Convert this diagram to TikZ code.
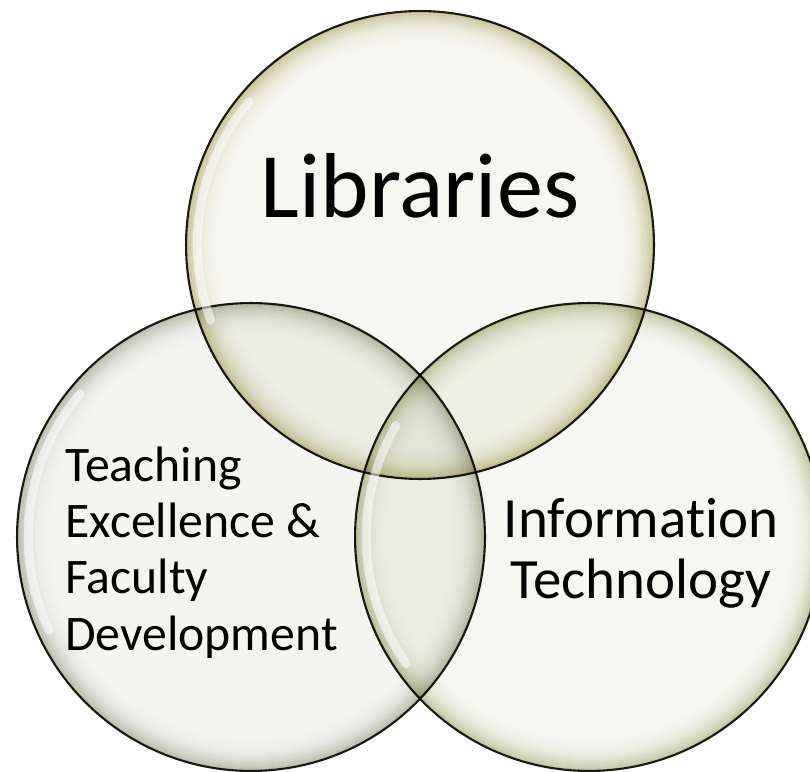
\documentclass[tikz,border=0pt]{standalone}
\usepackage{fontspec}
\setmainfont{Carlito}[Ligatures=NoCommon]
\usepackage{tikz}
\definecolor{rimline}{HTML}{1E1E16}
\definecolor{libin}{HTML}{F7F7F1}
\definecolor{librim}{HTML}{D2CDA4}
\definecolor{tedin}{HTML}{F4F5F1}
\definecolor{tedrim}{HTML}{C3C8B9}
\definecolor{itin}{HTML}{F6F7F1}
\definecolor{itrim}{HTML}{CBCFAE}
\usetikzlibrary{positioning}

% soft coloured band inside the rim of a bubble
\newcommand{\bubblerim}[2]{%
  \foreach \k [evaluate=\k as \p using {int(100*(1-\k/20)^3)}] in {0,...,19}
    \draw[line width=0.04cm, draw=#2!\p!white] (#1) circle[radius=233-2*\k];
}

\begin{document}
\begin{tikzpicture}[x=0.02cm, y=0.02cm]

  \tikzstyle{bubble} = [%
  circle,
  draw=rimline,
  inner sep=0pt,
  line width=1.2pt,
  minimum size=9.36cm,
  ];
  \tikzstyle{shine} = [%
  draw=white,
  line cap=round,
  line width=5pt,
  opacity=0.55,
  ];
  \tikzstyle{label} = [%
  inner sep=0pt,
  text=black,
  ];

  \useasboundingbox (0,0) rectangle (810,771);

  \begin{scope}[blend mode=multiply]
    \node[bubble, fill=libin] (lib) at (420,526) {};
    \node[bubble, fill=tedin] (ted) at (251,234) {};
    \node[bubble, fill=itin]  (it)  at (589,234) {};
    \bubblerim{lib}{librim}
    \bubblerim{ted}{tedrim}
    \bubblerim{it}{itrim}
  \end{scope}

  % highlights on the left rims
  \draw[shine] (lib.140) ++(-40:12) arc[start angle=140, end angle=200, radius=222];
  \draw[shine] (ted.140) ++(-40:12) arc[start angle=140, end angle=205, radius=222];
  \draw[shine] (it.150)  ++(-30:12) arc[start angle=150, end angle=215, radius=222];

  \node[label, anchor=base, font=\fontsize{52.5}{63}\selectfont]
    (libname) at (420,553) {Libraries};
  \node[label, anchor=base west, align=left, font=\fontsize{28.3}{31.9}\selectfont]
    (tedname) at (65,121) {Teaching\\Excellence \&\\Faculty\\Development};
  \node[label, anchor=base, align=center, font=\fontsize{32.4}{34.7}\selectfont]
    (itname) at (641,173) {Information\\Technology};

\end{tikzpicture}
\end{document}
